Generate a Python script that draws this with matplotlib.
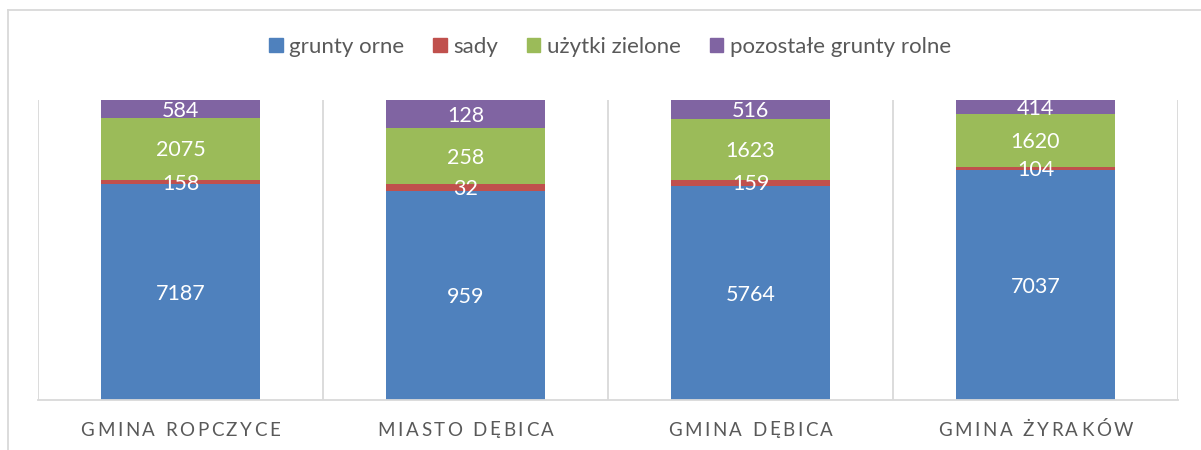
import matplotlib.pyplot as plt
import numpy as np
from matplotlib.lines import Line2D
from matplotlib.patches import Patch
from matplotlib.transforms import offset_copy

plt.rcParams['font.family'] = ['Lato', 'DejaVu Sans']

# area of agricultural land by type (ha)
gminy = ['Gmina Ropczyce', 'Miasto Dębica', 'Gmina Dębica', 'Gmina Żyraków']
grunty_orne = [7187, 959, 5764, 7037]
sady = [158, 32, 159, 104]
uzytki_zielone = [2075, 258, 1623, 1620]
pozostale = [584, 128, 516, 414]

series = [('grunty orne', grunty_orne, '#4F81BD'),
          ('sady', sady, '#C0504D'),
          ('użytki zielone', uzytki_zielone, '#9BBB59'),
          ('pozostałe grunty rolne', pozostale, '#8064A2')]

W, H = 1201, 450
fig = plt.figure(figsize=(W / 100, H / 100), dpi=100)
ax = fig.add_axes([38 / W, (H - 400) / H, (1178 - 38) / W, 300 / H])

x = np.arange(len(gminy))
totals = np.sum([s[1] for s in series], axis=0)
bottom = np.zeros(len(gminy))
for name, vals, col in series:
    share = np.array(vals) / totals
    ax.bar(x, share, bottom=bottom, width=0.558, color=col, label=name, zorder=2)
    for xi, b, h, v in zip(x, bottom, share, vals):
        ax.text(xi, b + h / 2 - 0.006, str(v), ha='center', va='center',
                color='white', fontsize=15.5, zorder=3)
    bottom += share

grid_col = '#D9D9D9'
ax.set_xlim(-0.5, len(gminy) - 0.5)
ax.set_ylim(0, 1)
for b in np.arange(-0.5, len(gminy), 1.0):
    ax.axvline(b, color=grid_col, lw=1.3, zorder=1)
for s in ['top', 'left', 'right']:
    ax.spines[s].set_visible(False)
ax.spines['bottom'].set_color(grid_col)
ax.spines['bottom'].set_linewidth(1.3)
ax.set_yticks([])
ax.set_xticks([])

# category names with wide letter tracking, placed char by char
renderer = fig.canvas.get_renderer()
lab_size = 13.5
track = 2.6   # extra px between letters
space_w = 5.0  # px for a word gap (before tracking)


def char_width(c):
    if c == ' ':
        return space_w
    t = fig.text(0, 0, c, fontsize=lab_size)
    w = t.get_window_extent(renderer).width
    t.remove()
    return w


for xi, name in zip(x, gminy):
    chars = list(name.upper())
    widths = [char_width(c) for c in chars]
    total = sum(widths) + track * (len(chars) - 1)
    pos = -total / 2
    for c, w in zip(chars, widths):
        if c != ' ':
            tr = offset_copy(ax.get_xaxis_transform(), fig=fig,
                             x=pos * 72 / fig.dpi, y=0, units='points')
            ax.text(xi, -0.1, c, transform=tr, ha='left', va='center',
                    fontsize=lab_size, color='#595959', clip_on=False)
        pos += w + track

handles = [Patch(color=c, label=n) for n, _, c in series]
fig.legend(handles=handles, loc='center', bbox_to_anchor=(0.508, (H - 47) / H),
           ncol=4, frameon=False, fontsize=16, handlelength=0.6,
           handleheight=0.6, handletextpad=0.3, columnspacing=1.3,
           labelcolor='#595959')

# chart frame
fig.add_artist(Line2D([8 / W, 8 / W], [0, (H - 10) / H], color=grid_col, lw=1.3))
fig.add_artist(Line2D([8 / W, 1], [(H - 10) / H, (H - 10) / H], color=grid_col, lw=1.3))

fig.savefig('out.png', dpi=100)
